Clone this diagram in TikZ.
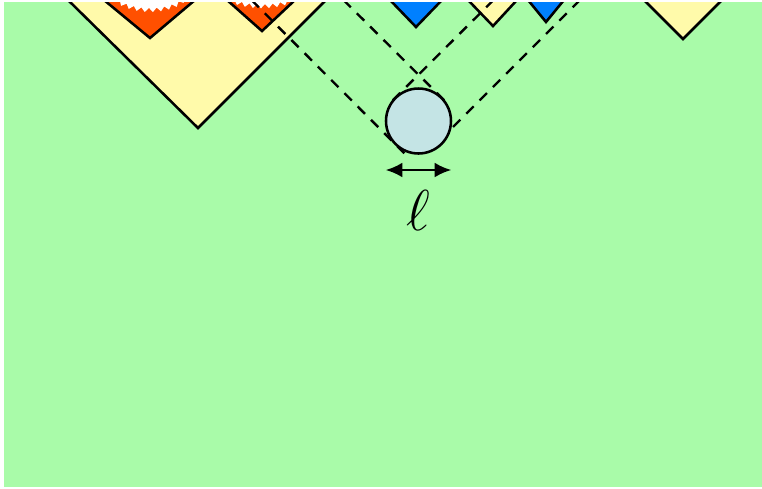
\documentclass[tikz,border=0pt]{standalone}
\usetikzlibrary{arrows.meta,calc,decorations.pathmorphing}
\definecolor{bggreen}{RGB}{169,251,169}
\definecolor{patchyellow}{RGB}{255,250,170}
\definecolor{hotorange}{RGB}{255,80,0}
\definecolor{coldblue}{RGB}{0,128,255}
\definecolor{blobblue}{RGB}{196,228,229}
\begin{document}
\begin{tikzpicture}[x=0.02cm, y=-0.02cm,
    edge/.style={line width=1.45pt, line join=miter},
    cone/.style={line width=1.35pt, dash pattern=on 5.9pt off 4.8pt},
    jagged/.style={decorate, decoration={zigzag, amplitude=1.2pt, segment length=4.5pt}}]
    \useasboundingbox (0,0) rectangle (762,488);
    \fill[bggreen] (4,2) rectangle (762,487);
    \clip (4,2) rectangle (762,487);
    % big yellow wedge with its two hot patches
    \fill[patchyellow] (68,0) -- (198,128) -- (326,0) -- cycle;
    \fill[hotorange] (104,0) -- (150,38) -- (195,0) -- cycle;
    \fill[hotorange] (227,0) -- (262,31) -- (295,0) -- cycle;
    \fill[white, jagged] (117,1) .. controls (135,13) and (165,13) .. (183,1) -- (183,-12) -- (117,-12) -- cycle;
    \fill[white, jagged] (232,1) .. controls (250,8) and (274,8) .. (291,1) -- (291,-12) -- (232,-12) -- cycle;
    \draw[edge] (104,0) -- (150,38) -- (195,0);
    \draw[edge] (227,0) -- (262,31) -- (295,0);
    \draw[edge] (68,0) -- (198,128) -- (326,0);
    % small wedges on the right
    \filldraw[edge, fill=coldblue] (390,0) -- (416,27) -- (442,0);
    \filldraw[edge, fill=patchyellow] (468,0) -- (493,26) -- (517,0);
    \filldraw[edge, fill=coldblue] (528,0) -- (546,22) -- (564,0);
    \filldraw[edge, fill=patchyellow] (644,0) -- (683,39) -- (722,0);
    % the blob and its light rays
    \node[circle, inner sep=0pt, minimum size=1.3cm] (blob) at (418.5,121) {};
    \draw[cone] (251.5,0) -- ($(blob.225)+(9,9)$);
    \draw[cone] (343.5,0) -- ($(blob.45)+(4,4)$);
    \draw[cone] (493.5,0) -- ($(blob.135)+(-8,8)$);
    \draw[cone] (580,0) -- (451,129);
    \node[circle, draw, line width=1.45pt, fill=blobblue, inner sep=0pt, minimum size=1.3cm] at (blob) {};
    \draw[line width=1.45pt, {Latex[length=9.5pt,width=8.5pt]}-{Latex[length=9.5pt,width=8.5pt]}]
        ($(blob.west)+(0,49)$) -- ($(blob.east)+(0,49)$);
    \node[font=\Huge, scale=1.32] (size) at (418,210) {$\ell$};
\end{tikzpicture}
\end{document}
